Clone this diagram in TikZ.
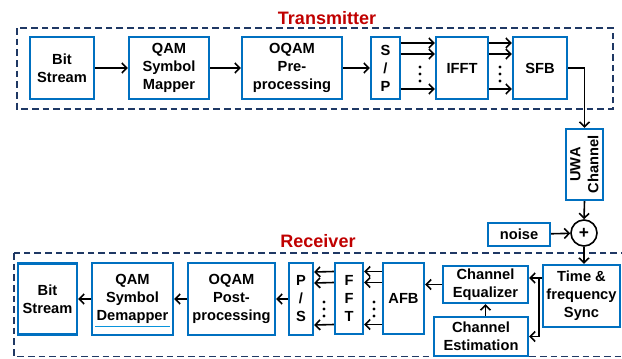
\documentclass[tikz,border=0pt]{standalone}
\usepackage{fontspec}
\setmainfont{Liberation Sans}
\usetikzlibrary{arrows.meta,calc,positioning}
\definecolor{boxblue}{RGB}{0,112,192}
\definecolor{framenavy}{RGB}{31,56,100}
\definecolor{titlered}{RGB}{192,0,0}
\tikzset{
  blk/.style 2 args={draw=boxblue, line width=1.8pt, minimum width=#1*0.75pt, minimum height=#2*0.75pt, inner sep=0pt, align=center},
  dashframe/.style={draw=framenavy, line width=1.4pt, dash pattern=on 5pt off 3pt},
  flow/.style={->, line width=1.2pt},
  sectitle/.style={text=titlered, font=\fontsize{13.5}{15}\selectfont\bfseries},
}

\begin{document}
\begin{tikzpicture}[x=0.75pt, y=-0.75pt, >={Straight Barb[length=3.6pt,width=7.5pt]}, font=\fontsize{11}{13.5}\selectfont\bfseries]
        \useasboundingbox (0,0) rectangle (622,358);

        \draw[dashframe] (17,28) rectangle (613,109);
        \draw[dashframe] (14,253) rectangle (628,356.5);
        \node[sectitle] (txlabel) at (327,18) {Transmitter};
        \node[sectitle] (rxlabel) at (318,241) {Receiver};

        \node[blk={64}{62}] (tbit) at (62,68) {Bit\\Stream};
        \node[blk={80}{62}] (tqam) at (169,68) {QAM\\Symbol\\Mapper};
        \node[blk={100}{62}] (toqam) at (292,68) {OQAM\\Pre-\\processing};
        \node[blk={29}{62}] (tsp) at (385.5,68) {S\\/\\P};
        \node[blk={52}{62}] (tifft) at (462,68) {IFFT};
        \node[blk={54}{62}] (tsfb) at (540,68) {SFB};
        \node[blk={71}{37}, rotate=90] (uwa) at (584.5,164.5) {UWA\\Channel};
        \node[circle, draw, line width=1.2pt, minimum size=26*0.75pt, inner sep=0pt, font=\fontsize{13}{13}\selectfont\bfseries] (plus) at (584,233) {+};
        \node[blk={62}{23}] (noise) at (519,234.5) {noise};

        \node[blk={59}{71}] (rbit) at (47.5,299) {Bit\\Stream};
        \node[blk={81}{72}] (rqam) at (132.5,299) {QAM\\Symbol\\Demapper};
        \node[blk={87}{72}] (roqam) at (231.5,299) {OQAM\\Post-\\processing};
        \node[blk={24}{72}] (rps) at (301,299) {P\\/\\S};
        \node[blk={28}{71}] (rfft) at (349,298.5) {F\\F\\T};
        \node[blk={41}{71}] (rafb) at (403.5,298.5) {AFB};
        \node[blk={85}{37}] (req) at (485.5,284.5) {Channel\\Equalizer};
        \node[blk={94}{39}] (rest) at (481,336.5) {Channel\\Estimation};
        \node[blk={77}{62}] (rsync) at (581.5,296) {Time \&\\frequency\\Sync};
        \draw[cyan!80!blue, line width=0.6pt] (95,326) -- (170,326);

        \draw[flow] (tbit) -- (tqam);
        \draw[flow] (tqam) -- (toqam);
        \draw[flow] (toqam) -- (tsp);
        \foreach \dy in {-25,-14,21}{
            \draw[flow] ($(tsp.east)+(0,\dy)$) -- ($(tifft.west)+(0,\dy)$);
            \draw[flow] ($(tifft.east)+(0,\dy)$) -- ($(tsfb.west)+(0,\dy)$);
        }
        \draw[flow] (tsfb.east) -| (uwa.east);
        \draw[flow] (uwa.west) -- (plus.north);
        \draw[flow] (noise) -- (plus);
        \draw[flow] (plus.south) -- (plus.south |- rsync.north);

        \coordinate (split) at (539,278);
        \draw[flow] (rsync.west |- split) -- (req.east |- split);
        \draw[flow] (split) |- (rest.east);
        \draw[flow] (req.south |- rest.north) -- (req.south);
        \draw[flow] (req.west) -- (req.west -| rafb.east);
        \foreach \dy in {-27,-16,26}{
            \draw[flow] ($(rafb.west)+(0,\dy)$) -- ($(rfft.east)+(0,\dy)$);
            \draw[flow] ($(rfft.west)+(0,\dy)$) -- ($(rps.east)+(0,\dy)$);
        }
        \draw[flow] (rps) -- (roqam);
        \draw[flow] (roqam) -- (rqam);
        \draw[flow] (rqam) -- (rbit);

        \foreach \xx/\yy in {420/67,420/74,420/81,500/67,500/74,500/81,324/302,324/309,324/316,374/302,374/309,374/316}{
            \fill (\xx,\yy) circle (1.3pt);
        }
    \end{tikzpicture}
\end{document}
